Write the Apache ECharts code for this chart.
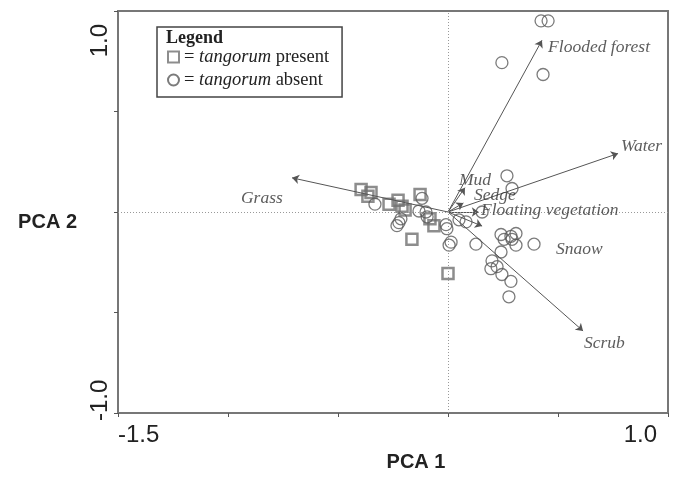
<!DOCTYPE html>
<html>
<head>
<meta charset="utf-8">
<script src="https://cdn.jsdelivr.net/npm/echarts@6/dist/echarts.min.js"></script>
<style>
  html, body { margin: 0; padding: 0; background: #fff; }
  #pcaChart { width: 675px; height: 477px; }
</style>
</head>
<body>
<div id="pcaChart"></div>
<script>
  // sites where tangorum was found
  const presentX = [-0.395, -0.35, -0.364, -0.268, -0.227, -0.209, -0.195, -0.127, -0.082, -0.064, -0.164, 0.0];
  const presentY = [0.112, 0.097, 0.078, 0.039, 0.058, 0.029, 0.01, 0.087, -0.034, -0.068, -0.136, -0.306];
  // sites where it was absent
  const absentX = [-0.332, -0.223, -0.214, -0.232, -0.118, -0.132, -0.1, -0.095, -0.009, -0.005, 0.014, 0.005,
    0.05, 0.082, 0.127, 0.155, 0.241, 0.286, 0.309, 0.291, 0.255, 0.309, 0.391, 0.241, 0.2, 0.195, 0.223,
    0.245, 0.286, 0.277, 0.268, 0.291, 0.423, 0.455, 0.245, 0.432];
  const absentY = [0.039, -0.053, -0.034, -0.068, 0.068, 0.005, 0.0, -0.024, -0.063, -0.083, -0.15, -0.165,
    -0.039, -0.049, -0.16, 0.0, -0.112, -0.121, -0.107, -0.136, -0.136, -0.165, -0.16, -0.199, -0.243, -0.282, -0.272,
    -0.311, -0.345, -0.422, 0.18, 0.117, 0.951, 0.951, 0.743, 0.684];

  // habitat vectors
  const vectorNames = ['Flooded forest', 'Water', 'Mud', 'Sedge', 'Floating vegetation', 'Snaow', 'Scrub', 'Grass'];
  const vectorX = [0.427, 0.773, 0.077, 0.07, 0.14, 0.155, 0.614, -0.709];
  const vectorY = [0.854, 0.291, 0.121, 0.045, 0.0, -0.07, -0.592, 0.17];
  const vectorLabelX = [0.455, 0.786, 0.05, 0.118, 0.15, 0.491, 0.618, -0.941];
  const vectorLabelY = [0.82, 0.325, 0.155, 0.083, 0.01, -0.184, -0.655, 0.068];

  const xTickLabels = ['-1.5', '1.0'];
  const yTickLabels = ['-1.0', '1.0'];

  let myChart = echarts.init(document.getElementById('pcaChart'));
  let serif = '"Liberation Serif", "Times New Roman", serif';
  let sans = '"Liberation Sans", Arial, sans-serif';

  let presentData = [];
  for (let i = 0; i < presentX.length; i++) {
    presentData.push([presentX[i], presentY[i]]);
  }
  let absentData = [];
  for (let i = 0; i < absentX.length; i++) {
    absentData.push([absentX[i], absentY[i]]);
  }
  let arrowData = [];
  let arrowLabels = [];
  for (let i = 0; i < vectorNames.length; i++) {
    arrowData.push({coords: [[0, 0], [vectorX[i], vectorY[i]]]});
    arrowLabels.push({name: vectorNames[i], value: [vectorLabelX[i], vectorLabelY[i]]});
  }

  function tickText (list) {
    return function (v) {
      for (let i = 0; i < list.length; i++) {
        if (Math.abs(parseFloat(list[i]) - v) < 1e-9) return list[i];
      }
      return '';
    };
  }

  // y labels are rotated, the top one sits a bit lower than its tick
  function yTickText (v) {
    let t = tickText(yTickLabels)(v);
    if (t === '') return '';
    return v > 0 ? '{mx|' + t + '}' : '{mn|' + t + '}';
  }

  myChart.setOption({
    animation: false,
    grid: {
      left: 118,
      right: 7,
      top: 11,
      bottom: 54,
      show: true,
      borderColor: '#777',
      borderWidth: 2
    },
    legend: {
      orient: 'vertical',
      left: 157,
      top: 27,
      padding: [20, 13, 7, 10],
      itemGap: 3,
      itemWidth: 11,
      itemHeight: 11,
      borderColor: '#444',
      borderWidth: 1.5,
      selectedMode: false,
      data: ['present', 'absent'],
      formatter: function (name) {
        return '= {i|tangorum} ' + name;
      },
      textStyle: {
        fontFamily: serif,
        fontSize: 18.5,
        lineHeight: 20,
        color: '#222',
        rich: {
          i: {fontFamily: serif, fontSize: 18.5, lineHeight: 20, fontStyle: 'italic', color: '#222'}
        }
      }
    },
    graphic: [{
      type: 'text',
      left: 166,
      top: 29,
      z: 100,
      style: {
        text: 'Legend',
        font: 'bold 18px ' + serif,
        fill: '#222'
      }
    }],
    xAxis: {
      type: 'value',
      min: -1.5,
      max: 1.0,
      interval: 0.5,
      name: 'PCA 1',
      nameLocation: 'middle',
      nameGap: 39,
      nameTextStyle: {
        fontFamily: sans,
        fontWeight: 'bold',
        fontSize: 20,
        color: '#222',
        padding: [0, 0, 0, 46]
      },
      axisLine: {onZero: false, lineStyle: {color: '#777', width: 2}},
      axisTick: {length: 4, lineStyle: {color: '#555'}},
      splitLine: {show: false},
      axisLabel: {
        fontFamily: sans,
        fontSize: 24,
        color: '#222',
        margin: 10,
        padding: [0, 11, 0, 0],
        showMinLabel: true,
        showMaxLabel: true,
        alignMinLabel: 'left',
        alignMaxLabel: 'right',
        formatter: tickText(xTickLabels)
      }
    },
    yAxis: {
      type: 'value',
      min: -1.0,
      max: 1.0,
      interval: 0.5,
      name: 'PCA 2',
      nameLocation: 'middle',
      nameRotate: 0,
      nameGap: 41,
      nameTextStyle: {
        fontFamily: sans,
        fontWeight: 'bold',
        fontSize: 20,
        color: '#222',
        verticalAlign: 'top',
        lineHeight: 8,
        padding: [6, 0, 0, 0]
      },
      axisLine: {onZero: false, lineStyle: {color: '#777', width: 2}},
      axisTick: {length: 4, lineStyle: {color: '#555'}},
      splitLine: {show: false},
      axisLabel: {
        fontFamily: sans,
        fontSize: 24,
        color: '#222',
        rotate: 90,
        margin: 6,
        showMinLabel: true,
        showMaxLabel: true,
        alignMinLabel: 'left',
        alignMaxLabel: 'right',
        formatter: yTickText,
        rich: {
          mn: {fontFamily: sans, fontSize: 24, color: '#222', padding: [0, 0, 0, -8]},
          mx: {fontFamily: sans, fontSize: 24, color: '#222', padding: [0, 13, 0, 0]}
        }
      }
    },
    series: [{
      name: 'present',
      type: 'scatter',
      symbol: 'rect',
      symbolSize: 11,
      itemStyle: {color: 'rgba(0,0,0,0)', borderColor: '#707070', borderWidth: 2.5},
      data: presentData,
      markLine: {
        silent: true,
        symbol: 'none',
        label: {show: false},
        lineStyle: {color: '#999', type: [1, 2], width: 1},
        data: [{xAxis: 0}, {yAxis: 0}]
      },
      z: 3
    }, {
      name: 'absent',
      type: 'scatter',
      symbol: 'circle',
      symbolSize: 12,
      itemStyle: {color: 'rgba(0,0,0,0)', borderColor: '#5a5a5a', borderWidth: 1.3},
      data: absentData,
      z: 3
    }, {
      name: 'vectors',
      type: 'lines',
      coordinateSystem: 'cartesian2d',
      symbol: ['none', 'arrow'],
      symbolSize: 7,
      lineStyle: {color: '#555', width: 1, opacity: 1},
      data: arrowData,
      z: 4
    }, {
      name: 'vectorLabels',
      type: 'scatter',
      symbolSize: 0,
      silent: true,
      data: arrowLabels,
      label: {
        show: true,
        position: 'right',
        distance: 0,
        formatter: '{b}',
        fontFamily: serif,
        fontStyle: 'italic',
        fontSize: 17.5,
        color: '#333'
      },
      z: 5
    }]
  });
</script>
</body>
</html>
